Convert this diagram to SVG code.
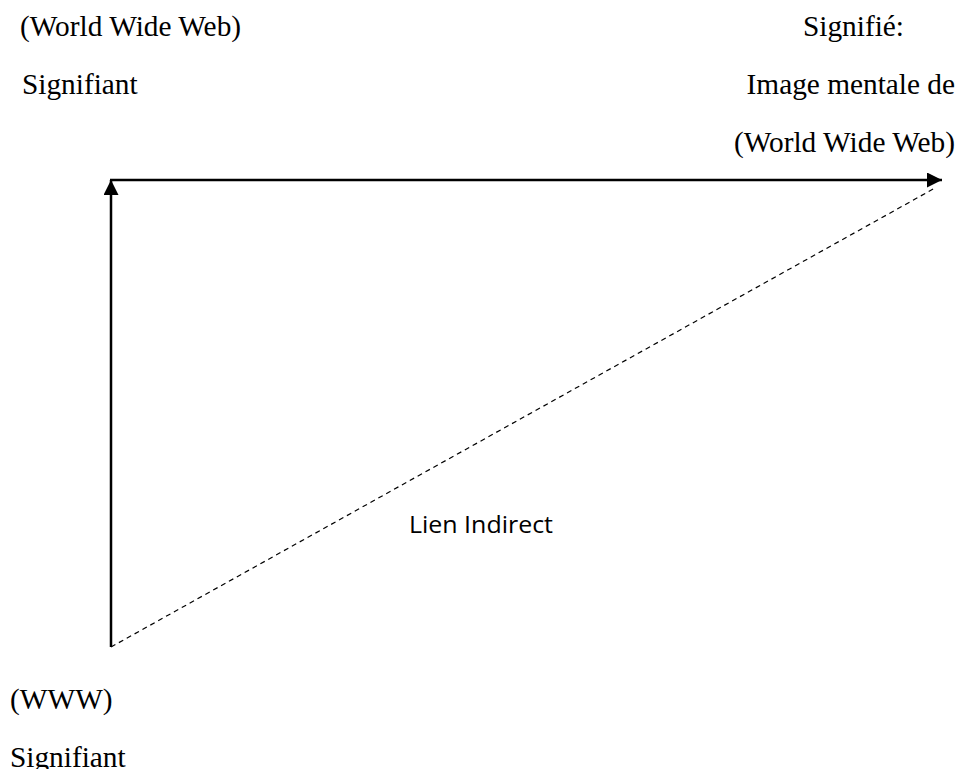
<svg xmlns="http://www.w3.org/2000/svg" width="965" height="769" viewBox="0 0 965 769">
<style>
.t{font-family:"Liberation Serif","Times New Roman",serif;font-size:29.33px;fill:#000}
.s{font-family:"Open Sans","Noto Sans",sans-serif;font-size:24px;fill:#000}
.solid{stroke:#000;stroke-width:2.5;fill:none}
.dash{stroke:#000;stroke-width:1.2;fill:none;stroke-dasharray:5 4}
</style>
<defs>
<marker id="ah" viewBox="0 0 10 10" refX="10" refY="5" markerWidth="6" markerHeight="6" markerUnits="strokeWidth" orient="auto">
<path d="M0,0 L10,5 L0,10 Z" fill="#000"/>
</marker>
</defs>
<rect width="965" height="769" fill="#fff"/>
<g id="signifiant-top">
<text class="t" x="20" y="36">(World Wide Web)</text>
<text class="t" x="22" y="94">Signifiant</text>
</g>
<g id="signifie">
<text class="t" x="803" y="36">Signifié:</text>
<text class="t" x="955" y="94" text-anchor="end">Image mentale de</text>
<text class="t" x="955" y="152" text-anchor="end">(World Wide Web)</text>
</g>
<g id="signifiant-bottom">
<text class="t" x="10" y="709">(WWW)</text>
<text class="t" x="10" y="767">Signifiant</text>
</g>
<g id="connectors">
<line class="solid" x1="111" y1="647" x2="111" y2="180" marker-end="url(#ah)"/>
<line class="solid" x1="110" y1="180" x2="942" y2="180" marker-end="url(#ah)"/>
<line class="dash" x1="111" y1="647" x2="935" y2="188"/>
</g>
<g id="label">
<text class="s" x="409" y="533" textLength="144" lengthAdjust="spacingAndGlyphs">Lien Indirect</text>
</g>
</svg>
